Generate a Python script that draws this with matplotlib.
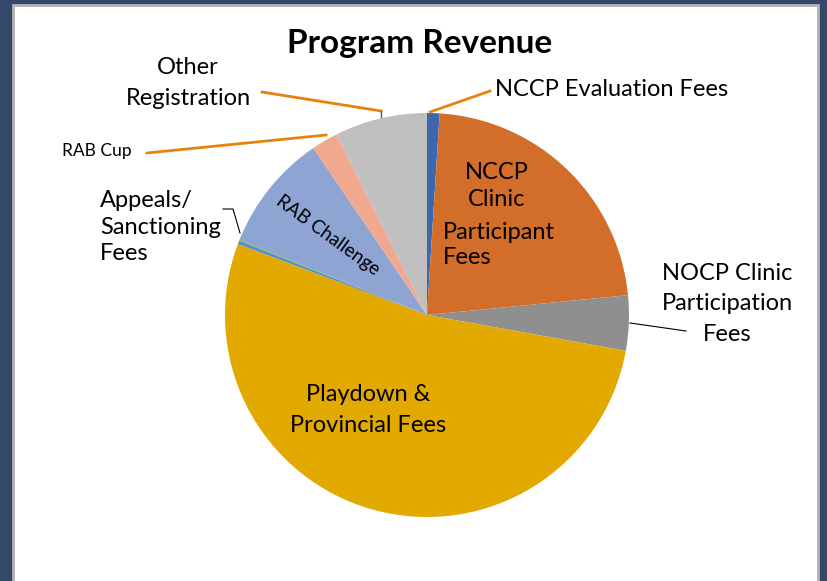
# Program Revenue pie chart
import matplotlib.pyplot as plt
from matplotlib.patches import Rectangle

# data (share of program revenue, %)
categories = ['NCCP Evaluation Fees', 'NCCP Clinic Participant Fees', 'NOCP Clinic Participation Fees',
              'Playdown & Provincial Fees', 'Appeals/ Sanctioning Fees', 'Other Sanctioning',
              'RAB Challenge', 'RAB Cup', 'Other Registration']
shares = [1.0, 22.4, 4.4, 52.8, 0.28, 0.08, 9.4, 2.1, 7.4]
colors = ['#3F67B0', '#D26D2A', '#8F8F8F', '#E2A900', '#5B8FC9', '#70AD47',
          '#8EA4D2', '#F0A98E', '#BFBFBF']

plt.rcParams['font.family'] = ['Lato', 'DejaVu Sans']

W, H = 827, 581
fig = plt.figure(figsize=(W / 100, H / 100), dpi=100, facecolor='#34496A')
ax = fig.add_axes([0, 0, 1, 1])
ax.axis('off')

# white chart panel with grey border
ax.add_patch(Rectangle((13, -10), 805, H - 5 + 10, facecolor='white',
                       edgecolor='#B4B4B4', linewidth=2, zorder=0))


def Y(y):
    # convert image row to data y
    return H - y


ax.pie(shares, colors=colors, startangle=90, counterclock=False,
       center=(427, Y(315)), radius=202, wedgeprops=dict(linewidth=0))
ax.set_xlim(0, W)
ax.set_ylim(0, H)
ax.set_aspect('auto')

ax.text(420, Y(43), 'Program Revenue', ha='center', va='center', fontsize=24, fontweight='bold')

fs = 17
ax.text(188, Y(83), 'Other\nRegistration', ha='center', va='center', fontsize=fs, linespacing=1.6)
ax.text(97, Y(151), 'RAB Cup', ha='center', va='center', fontsize=12.5)
ax.text(100, Y(227), 'Appeals/\nSanctioning\nFees', ha='left', va='center', fontsize=fs, linespacing=1.3)
ax.text(612, Y(89), 'NCCP Evaluation Fees', ha='center', va='center', fontsize=fs)
ax.text(497, Y(186), 'NCCP\nClinic', ha='center', va='center', fontsize=fs, linespacing=1.38)
ax.text(443, Y(245), 'Participant\nFees', ha='left', va='center', fontsize=fs, linespacing=1.27)
ax.text(727, Y(304), 'NOCP Clinic\nParticipation\nFees', ha='center', va='center', fontsize=fs, linespacing=1.58)
ax.text(368, Y(410), 'Playdown &\nProvincial Fees', ha='center', va='center', fontsize=fs, linespacing=1.6)
ax.text(328, Y(235), 'RAB Challenge', ha='center', va='center', fontsize=13.5, rotation=-36,
        rotation_mode='anchor')

# leader lines
orange = '#E8820C'
ax.plot([147, 326], [Y(153), Y(135)], color=orange, lw=2)
ax.plot([262, 381], [Y(92), Y(111)], color=orange, lw=2)
ax.plot([381, 381], [Y(111), Y(117)], color='#555555', lw=1)
ax.plot([430, 490], [Y(112), Y(91)], color=orange, lw=2)
ax.plot([630, 686], [Y(323), Y(331)], color='black', lw=0.8)
ax.plot([223, 233, 240], [Y(209), Y(209), Y(233)], color='black', lw=0.8)

fig.savefig('out.png', dpi=100, facecolor=fig.get_facecolor())
